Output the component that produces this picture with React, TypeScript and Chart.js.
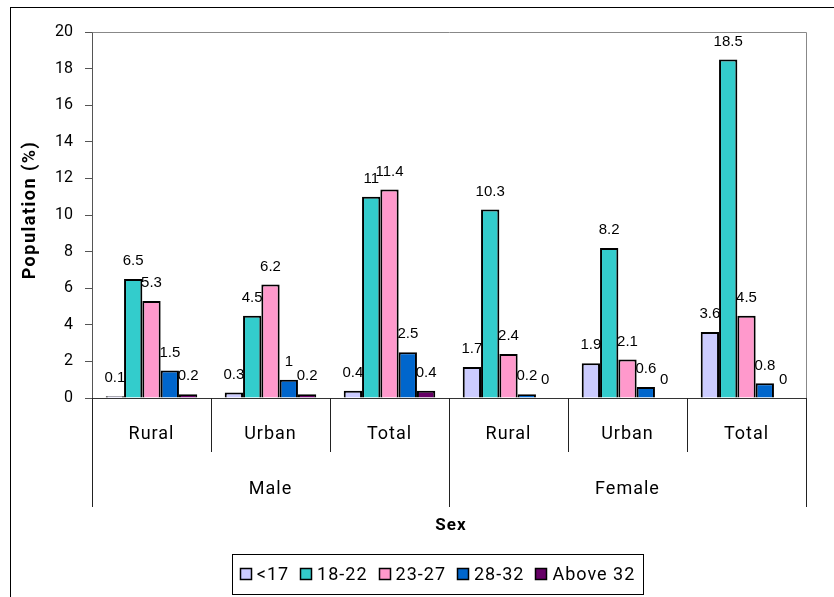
import React, { useEffect, useRef } from 'react';
import { Chart, registerables } from 'chart.js';
Chart.register(...registerables);

const categories = ['Rural', 'Urban', 'Total', 'Rural', 'Urban', 'Total'];
const groups = ['Male', 'Female'];
const seriesNames = ['<17', '18-22', '23-27', '28-32', 'Above 32'];
const under17 = [0.1, 0.3, 0.4, 1.7, 1.9, 3.6];
const age18to22 = [6.5, 4.5, 11, 10.3, 8.2, 18.5];
const age23to27 = [5.3, 6.2, 11.4, 2.4, 2.1, 4.5];
const age28to32 = [1.5, 1, 2.5, 0.2, 0.6, 0.8];
const above32 = [0.2, 0.2, 0.4, 0, 0, 0];
const seriesColors = ['#CCCCFF', '#33CCCC', '#FF99CC', '#0066CC', '#660066'];
const yTicks = [0, 2, 4, 6, 8, 10, 12, 14, 16, 18, 20];

const seriesValues = [under17, age18to22, age23to27, age28to32, above32];

const customPlugin = {
  id: 'custom',
  beforeDraw(chart: any) {
    const ctx = chart.ctx;
    ctx.save();
    ctx.fillStyle = '#fff';
    ctx.fillRect(0, 0, chart.width, chart.height);
    ctx.strokeStyle = '#000';
    ctx.lineWidth = 1;
    ctx.strokeRect(10.5, 7.5, 1000, 1000);
    ctx.restore();
  },
  afterDatasetsDraw(chart: any) {
    const ctx = chart.ctx;
    const area = chart.chartArea;
    const xs = chart.scales.x;
    ctx.save();
    // plot frame top/right
    ctx.strokeStyle = '#888';
    ctx.lineWidth = 1;
    ctx.beginPath();
    ctx.moveTo(Math.round(area.left) + 0.5, Math.round(area.top) + 0.5);
    ctx.lineTo(Math.round(area.right) + 0.5, Math.round(area.top) + 0.5);
    ctx.lineTo(Math.round(area.right) + 0.5, Math.round(area.bottom) + 0.5);
    ctx.stroke();
    // baseline
    ctx.strokeStyle = '#333';
    ctx.beginPath();
    ctx.moveTo(area.left, Math.round(area.bottom) + 0.5);
    ctx.lineTo(area.right, Math.round(area.bottom) + 0.5);
    ctx.stroke();

    // category axis
    const n = categories.length;
    const w = (xs.right - xs.left) / n;
    const base = Math.round(area.bottom);
    ctx.strokeStyle = '#222';
    for (let i = 0; i <= n; i++) {
      const x = Math.round(xs.left + i * w) + 0.5;
      const isGroupEdge = i === 0 || i === n || i === 3;
      ctx.beginPath();
      ctx.moveTo(x, base);
      ctx.lineTo(x, base + (isGroupEdge ? 109 : 54));
      ctx.stroke();
    }
    ctx.fillStyle = '#000';
    ctx.textAlign = 'center';
    ctx.textBaseline = 'middle';
    ctx.font = '18px Roboto';
    ctx.letterSpacing = '1px';
    categories.forEach((c, i) => {
      ctx.fillText(c, xs.getPixelForValue(i), base + 36);
    });
    groups.forEach((g, gi) => {
      const cx = xs.left + (gi * 3 + 1.5) * w;
      ctx.fillText(g, cx, base + 91);
    });
    ctx.letterSpacing = '0px';

    // data labels
    ctx.font = '15px "Liberation Sans", Arial, sans-serif';
    chart.data.datasets.forEach((ds: any, di: number) => {
      const meta = chart.getDatasetMeta(di);
      meta.data.forEach((el: any, i: number) => {
        const v = ds.data[i];
        ctx.fillText(String(v), el.x, el.y - 18);
      });
    });

    // axis titles
    ctx.font = 'bold 17px Roboto';
    ctx.letterSpacing = '1px';
    ctx.fillText('Sex', 451, 526);
    ctx.save();
    ctx.translate(30, 210);
    ctx.rotate(-Math.PI / 2);
    ctx.font = 'bold 18px Roboto';
    ctx.letterSpacing = '1.5px';
    ctx.fillText('Population (%)', 0, 0);
    ctx.restore();

    // legend
    const boxL = 232, boxT = 554, boxW = 411, boxH = 40;
    ctx.strokeStyle = '#000';
    ctx.lineWidth = 1;
    ctx.strokeRect(boxL + 0.5, boxT + 0.5, boxW, boxH);
    ctx.font = '18px Roboto';
    ctx.letterSpacing = '1px';
    const sq = 12, gap = 5, itemGap = 11;
    const widths = seriesNames.map((s) => ctx.measureText(s).width);
    const total = widths.reduce((a, b) => a + b, 0) + seriesNames.length * (sq + gap) + (seriesNames.length - 1) * itemGap;
    let x = boxL + (boxW - total) / 2;
    const cy = boxT + boxH / 2;
    ctx.textAlign = 'left';
    seriesNames.forEach((s, i) => {
      ctx.fillStyle = seriesColors[i];
      ctx.fillRect(Math.round(x), Math.round(cy - sq / 2), sq, sq);
      ctx.strokeStyle = '#000';
      ctx.lineWidth = 1.5;
      ctx.strokeRect(Math.round(x) + 0.5, Math.round(cy - sq / 2) + 0.5, sq - 1, sq - 1);
      ctx.fillStyle = '#000';
      ctx.fillText(s, x + sq + gap, cy + 1);
      x += sq + gap + widths[i] + itemGap;
    });
    ctx.letterSpacing = '0px';
    ctx.restore();
  },
};

export default function App() {
  const ref = useRef<HTMLCanvasElement>(null);
  useEffect(() => {
    const canvas = ref.current!;
    const chart = new Chart(canvas, {
      type: 'bar',
      data: {
        labels: categories,
        datasets: seriesNames.map((name, i) => ({
          label: name,
          data: seriesValues[i],
          backgroundColor: seriesColors[i],
          borderColor: '#000',
          borderWidth: 2,
          borderSkipped: 'bottom',
          categoryPercentage: 5 / 6.5,
          barPercentage: 1,
        })),
      },
      options: {
        responsive: false,
        animation: false,
        devicePixelRatio: 1,
        layout: { padding: { top: 32, right: 28, bottom: 199, left: 10 } },
        plugins: { legend: { display: false }, tooltip: { enabled: false }, title: { display: false } },
        scales: {
          x: { display: false, offset: true },
          y: {
            min: 0,
            max: 20,
            afterBuildTicks: (s: any) => {
              s.ticks = yTicks.map((v) => ({ value: v }));
            },
            ticks: { color: '#000', font: { family: 'Roboto', size: 16 }, padding: 12 },
            grid: { drawOnChartArea: false, tickLength: 7, color: '#555', tickColor: '#555' },
            border: { display: true, color: '#555', width: 1 },
            afterFit: (s: any) => {
              s.width = 82;
            },
          },
        },
      } as any,
      plugins: [customPlugin],
    });
    return () => chart.destroy();
  }, []);
  return (
    <div style={{ position: 'fixed', left: 0, top: 0, width: 834, height: 597, background: '#fff' }}>
      <canvas ref={ref} width={834} height={597} style={{ display: 'block' }} />
    </div>
  );
}
